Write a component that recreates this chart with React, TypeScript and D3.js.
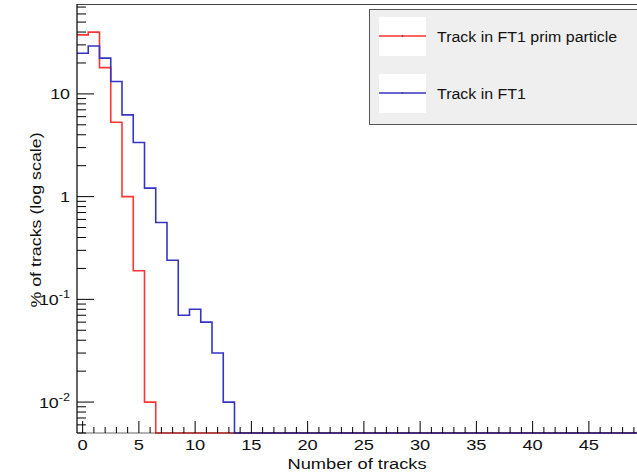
import React, { useRef, useEffect } from "react";
import * as d3 from "d3";

// % of tracks per bin (bin i = i tracks), empty bins are left out
const primParticle = [37.5, 39.9, 18, 5.3, 1.0, 0.19, 0.01];
const trackInFT1 = [24.9, 29.3, 22.3, 13.2, 6.25, 3.36, 1.21, 0.56, 0.24, 0.07, 0.08, 0.06, 0.03, 0.01];
const seriesNames = ["Track in FT1 prim particle", "Track in FT1"];
const xTicks = [0, 5, 10, 15, 20, 25, 30, 35, 40, 45];
const yTicks = [0.01, 0.1, 1, 10];
const yTickLabels = [["10", "-2"], ["10", "-1"], ["1", ""], ["10", ""]];

const nBins = 50;

const App = () => {
  const svgRef = useRef<SVGSVGElement>(null);

  useEffect(() => {
    const svg = d3.select(svgRef.current);
    svg.selectAll("*").remove();
    const width = 637;
    const height = 474;
    const left = 77, top = 4, bottom = 433;

    const x = d3.scaleLinear().domain([-0.5, nBins - 0.5]).range([left, left + nBins * 11.25]);
    const y = d3.scaleLog().domain([0.005, 75]).range([bottom, top]);
    const right = x.range()[1];

    svg.attr("width", width).attr("height", height);

    const font = "'Liberation Sans', Arial, Helvetica, sans-serif";

    // frame
    svg.append("line").attr("x1", left).attr("x2", right).attr("y1", top + 0.5).attr("y2", top + 0.5)
      .attr("stroke", "#444").attr("stroke-width", 1.2);
    svg.append("line").attr("x1", right).attr("x2", right).attr("y1", top).attr("y2", bottom)
      .attr("stroke", "#444");

    // histograms
    const histPoints = (vals: number[]) => {
      const pts: [number, number][] = [];
      for (let i = 0; i < nBins; i++) {
        const v = i < vals.length ? vals[i] : 0;
        const yv = v > 0 ? y(v) : bottom;
        pts.push([x(i - 0.5), yv], [x(i + 0.5), yv]);
      }
      return pts;
    };
    const line = d3.line();
    const colors = ["#ff3535", "#3535c4"];
    [primParticle, trackInFT1].forEach((vals, k) => {
      svg.append("path")
        .attr("d", line(histPoints(vals)))
        .attr("fill", "none")
        .attr("stroke", colors[k])
        .attr("stroke-width", 1.6);
    });

    // axes lines
    svg.append("line").attr("x1", left).attr("x2", right).attr("y1", bottom).attr("y2", bottom)
      .attr("stroke", "#000").attr("stroke-width", 1.2).attr("stroke-opacity", 0.6);
    svg.append("line").attr("x1", left).attr("x2", left).attr("y1", top).attr("y2", bottom)
      .attr("stroke", "#000").attr("stroke-width", 1.2);

    // x ticks
    const gx = svg.append("g");
    d3.range(0, nBins).forEach((t) => {
      const major = t % 5 === 0;
      gx.append("line").attr("x1", x(t)).attr("x2", x(t))
        .attr("y1", bottom).attr("y2", bottom - (major ? 12 : 6))
        .attr("stroke", "#000").attr("stroke-width", 1);
    });
    xTicks.forEach((t) => {
      gx.append("text")
        .attr("transform", `translate(${x(t)},${450}) scale(1.18,1)`)
        .attr("text-anchor", "middle")
        .attr("font-family", font).attr("font-size", 15.5).attr("fill", "#111")
        .text(t);
    });

    // y ticks
    const gy = svg.append("g");
    const [y0, y1] = y.domain();
    for (let e = -3; e <= 2; e++) {
      for (let m = 1; m <= 9; m++) {
        const v = m * Math.pow(10, e);
        if (v < y0 || v > y1) continue;
        gy.append("line").attr("x1", left).attr("x2", left + (m === 1 ? 17 : 9))
          .attr("y1", y(v)).attr("y2", y(v))
          .attr("stroke", "#000").attr("stroke-width", 1);
      }
    }
    yTicks.forEach((t, i) => {
      const [base, sup] = yTickLabels[i];
      const txt = gy.append("text")
        .attr("transform", `translate(${70},${y(t) + 5.5}) scale(1.15,1)`)
        .attr("text-anchor", "end")
        .attr("font-family", font).attr("font-size", 15.5).attr("fill", "#111");
      txt.append("tspan").text(base);
      if (sup) {
        txt.append("tspan").attr("font-size", 11).attr("dy", -7).text(sup);
      }
    });

    // axis titles
    svg.append("text")
      .attr("transform", `translate(${357},${469}) scale(1.18,1)`)
      .attr("text-anchor", "middle")
      .attr("font-family", font).attr("font-size", 15.5).attr("fill", "#111")
      .text("Number of tracks");
    svg.append("text")
      .attr("transform", `translate(${41},${220}) rotate(-90) scale(1.15,1)`)
      .attr("text-anchor", "middle")
      .attr("font-family", font).attr("font-size", 15.5).attr("fill", "#111")
      .text("% of tracks (log scale)");

    // legend
    const lg = svg.append("g");
    lg.append("rect").attr("x", 369.5).attr("y", 9.5).attr("width", 275).attr("height", 115)
      .attr("fill", "#efefef").attr("stroke", "#555").attr("stroke-width", 1);
    seriesNames.forEach((name, k) => {
      const cy = 36 + k * 57;
      lg.append("rect").attr("x", 379).attr("y", cy - 19).attr("width", 47).attr("height", 39)
        .attr("fill", "#fff");
      lg.append("line").attr("x1", 379).attr("x2", 426).attr("y1", cy).attr("y2", cy)
        .attr("stroke", colors[k]).attr("stroke-width", 1.4);
      lg.append("circle").attr("cx", 402.5).attr("cy", cy).attr("r", 0.8).attr("fill", "#333");
      lg.append("text")
        .attr("transform", `translate(${437},${cy + 5.5}) scale(1.03,1)`)
        .attr("font-family", font).attr("font-size", 15.5).attr("fill", "#111")
        .text(name);
    });
  }, []);

  return <svg ref={svgRef} style={{ position: "absolute", left: 0, top: 0, background: "#fff" }}></svg>;
};

export default App;
